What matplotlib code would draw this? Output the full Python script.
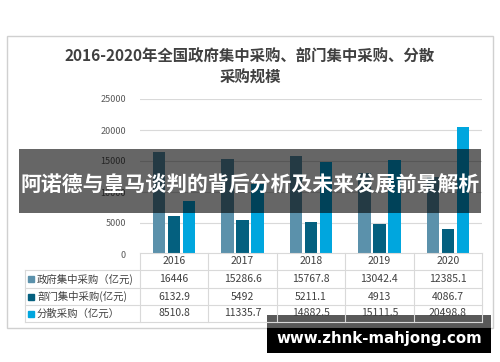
import matplotlib
matplotlib.use('Agg')
import matplotlib.pyplot as plt
from matplotlib.patches import Rectangle
import numpy as np

plt.rcParams['font.family'] = ['Noto Sans CJK SC', 'DejaVu Sans']

years = ['2016', '2017', '2018', '2019', '2020']
series_names = ['政府集中采购（亿元)', '部门集中采购(亿元)', '分散采购（亿元）']
gov = [16446, 15286.6, 15767.8, 13042.4, 12385.1]
dept = [6132.9, 5492, 5211.1, 4913, 4086.7]
scattered = [8510.8, 11335.7, 14882.5, 15111.5, 20498.8]
value_labels = [
    ['16446', '15286.6', '15767.8', '13042.4', '12385.1'],
    ['6132.9', '5492', '5211.1', '4913', '4086.7'],
    ['8510.8', '11335.7', '14882.5', '15111.5', '20498.8'],
]
colors = ['#5B91AB', '#04607F', '#00A6DE']
title = '2016-2020年全国政府集中采购、部门集中采购、分散\n采购规模'
banner = '阿诺德与皇马谈判的背后分析及未来发展前景解析'
site = 'www.zhnk-mahjong.com'

W, H = 500, 362
fig = plt.figure(figsize=(W / 100, H / 100), dpi=100)
fig.patch.set_facecolor('white')


def px_box(x0, y0, x1, y1):
    return [x0 / W, 1 - y1 / H, (x1 - x0) / W, (y1 - y0) / H]


# bar chart
ax = fig.add_axes(px_box(140, 99, 482, 254))
x = np.arange(len(years))
w = 0.18
step = 0.22
for i, vals in enumerate([gov, dept, scattered]):
    ax.bar(x + (i - 1) * step, vals, width=w, color=colors[i], zorder=3)
ax.set_xlim(-0.5, len(years) - 0.5)
ax.set_ylim(0, 25000)
ax.set_yticks(range(0, 25001, 5000))
ax.tick_params(axis='y', length=0, labelsize=6.5, labelcolor='#595959', pad=10)
ax.set_xticks([])
ax.grid(axis='y', color='#D9D9D9', linewidth=0.8, zorder=0)
for s in ax.spines.values():
    s.set_visible(False)

# overlay in pixel coordinates
ov = fig.add_axes([0, 0, 1, 1], zorder=10)
ov.set_xlim(0, W)
ov.set_ylim(H, 0)
ov.axis('off')
ov.patch.set_alpha(0)

# chart frame
ov.add_patch(Rectangle((7, 36), 486, 292, fill=False, edgecolor='#D0D0D0', linewidth=1))
ov.text(250, 67, title, ha='center', va='center', fontsize=11.1, fontweight='bold',
        color='#404040', linespacing=1.4)

# data table
col_x = np.linspace(140, 482, len(years) + 1)
row_y = [253, 270, 288, 305, 322]
line_c = '#D9D9D9'
ov.plot([140, 482], [row_y[0], row_y[0]], color=line_c, lw=0.8)
for y in row_y[1:]:
    ov.plot([25, 482], [y, y], color=line_c, lw=0.8)
for cx in col_x:
    ov.plot([cx, cx], [row_y[0], row_y[-1]], color=line_c, lw=0.8)
ov.plot([25, 25], [row_y[1], row_y[-1]], color=line_c, lw=0.8)

for j, yr in enumerate(years):
    cx = (col_x[j] + col_x[j + 1]) / 2
    ov.text(cx, (row_y[0] + row_y[1]) / 2, yr, ha='center', va='center', fontsize=7.5, color='#404040')
for i, name in enumerate(series_names):
    cy = (row_y[i + 1] + row_y[i + 2]) / 2
    ov.add_patch(Rectangle((28, cy - 3), 6, 6, color=colors[i]))
    ov.text(37, cy, name, ha='left', va='center', fontsize=7.5, color='#404040')
    for j in range(len(years)):
        cx = (col_x[j] + col_x[j + 1]) / 2
        ov.text(cx, cy, value_labels[i][j], ha='center', va='center', fontsize=7.5, color='#404040')

# banner overlay
ov.add_patch(Rectangle((19, 149), 462, 64, color='black', alpha=0.6, linewidth=0))
ov.text(250, 185, banner, ha='center', va='center', fontsize=15, fontweight='bold', color='white')

# site watermark
ov.add_patch(Rectangle((267, 315), 224, 38, color='black', alpha=0.65, linewidth=0))
ov.add_patch(Rectangle((267, 328), 224, 25, color='black', linewidth=0))
ov.text(379, 339, site, ha='center', va='center', fontsize=10.8, fontweight='bold',
        color='white', family=['DejaVu Sans'])

fig.savefig('out.png', dpi=100, facecolor='white')
